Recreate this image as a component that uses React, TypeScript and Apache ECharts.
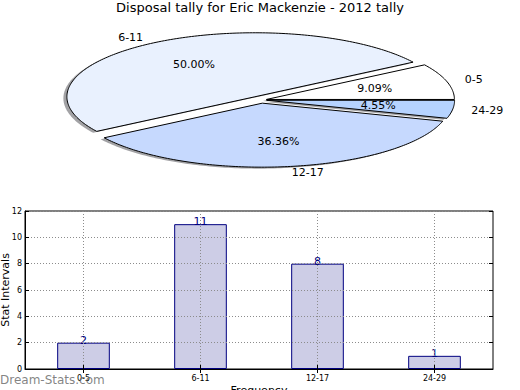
import React, { useEffect, useRef } from "react";
import * as echarts from "echarts";

const categories = ["0-5", "6-11", "12-17", "24-29"];
const tally = [2, 11, 8, 1];
const explode = [0.03, 0.06, 0.05, 0.03];
const sliceColors = ["#ffffff", "#e9f1fe", "#c6d9fe", "#b6d3fe"];
const yTicks = [0, 2, 4, 6, 8, 10, 12];
const titleText = "Disposal tally for Eric Mackenzie - 2012 tally";

const FONT = "DejaVu Sans";
const PIE = { cx: 261, cy: 100, rx: 188, ry: 64 };
const GRID_LINE = { type: [1, 2], color: "#8c8c8c", width: 1 };

function sliceGeom(i: number) {
  const total = tally.reduce((a, b) => a + b, 0);
  let before = 0;
  for (let k = 0; k < i; k++) before += tally[k];
  const start = (before / total) * 2 * Math.PI;
  const end = ((before + tally[i]) / total) * 2 * Math.PI;
  const mid = (start + end) / 2;
  const ox = Math.cos(mid) * PIE.rx * explode[i];
  const oy = -Math.sin(mid) * PIE.ry * explode[i];
  return { start, end, mid, ox, oy, frac: tally[i] / total };
}

function slicePoints(i: number, dx: number, dy: number) {
  const g = sliceGeom(i);
  const cx = PIE.cx + g.ox + dx;
  const cy = PIE.cy + g.oy + dy;
  const pts: number[][] = [[cx, cy]];
  const n = Math.max(8, Math.ceil(((g.end - g.start) * 180) / Math.PI));
  for (let k = 0; k <= n; k++) {
    const a = g.start + ((g.end - g.start) * k) / n;
    pts.push([cx + PIE.rx * Math.cos(a), cy - PIE.ry * Math.sin(a)]);
  }
  return pts;
}

export default function App() {
  const ref = useRef<HTMLDivElement>(null);
  useEffect(() => {
    if (!ref.current) return;
    const chart = echarts.init(ref.current, undefined, { renderer: "svg" });
    const option: any = {
      animation: false,
      title: {
        text: titleText,
        left: "center",
        top: 1,
        padding: 0,
        textStyle: { fontFamily: FONT, fontSize: 13, fontWeight: "normal", color: "#000" },
      },
      grid: {
        left: 25,
        top: 211,
        right: 27,
        bottom: 21,
        show: true,
        borderColor: "#000",
        borderWidth: 1,
        backgroundColor: "transparent",
        containLabel: false,
        outerBoundsMode: "none",
      },
      xAxis: [
        {
          type: "category",
          data: categories,
          z: 5,
          axisLine: { show: true, lineStyle: { color: "#000", width: 1 } },
          axisTick: { show: true, inside: true, alignWithLabel: true, length: 4, lineStyle: { color: "#000" } },
          axisLabel: { fontFamily: FONT, fontSize: 8, color: "#000", margin: 5 },
          splitLine: { show: true, alignWithLabel: true, lineStyle: GRID_LINE },
          name: "Frequency",
          nameLocation: "middle",
          nameGap: 16,
          nameMoveOverlap: false,
          nameTextStyle: { fontFamily: FONT, fontSize: 11, color: "#000", verticalAlign: "top" },
        },
        {
          type: "category",
          data: categories,
          position: "top",
          z: 5,
          axisLine: { show: false },
          axisTick: { show: true, inside: true, alignWithLabel: true, length: 4, lineStyle: { color: "#000" } },
          axisLabel: { show: false },
          splitLine: { show: false },
        },
      ],
      yAxis: [
        {
          type: "value",
          min: 0,
          max: 12,
          interval: 2,
          z: 5,
          axisLine: { show: true, lineStyle: { color: "#000" } },
          axisTick: { show: true, inside: true, length: 4, lineStyle: { color: "#000" } },
          axisLabel: { fontFamily: FONT, fontSize: 8, color: "#000", margin: 3 },
          splitLine: { show: true, lineStyle: GRID_LINE },
          name: "Stat Intervals",
          nameLocation: "middle",
          nameRotate: 90,
          nameGap: 14,
          nameMoveOverlap: false,
          nameTextStyle: { fontFamily: FONT, fontSize: 11, color: "#000" },
        },
        {
          type: "value",
          min: 0,
          max: 12,
          interval: 2,
          position: "right",
          z: 5,
          axisLine: { show: false },
          axisTick: { show: true, inside: true, length: 4, lineStyle: { color: "#000" } },
          axisLabel: { show: false },
          splitLine: { show: false },
        },
      ],
      series: [
        {
          type: "bar",
          data: tally,
          barWidth: "45%",
          itemStyle: { color: "#cdcde6", borderColor: "#000080", borderWidth: 1 },
          label: {
            show: true,
            position: "top",
            distance: -3,
            color: "#000080",
            fontFamily: FONT,
            fontSize: 11,
          },
          z: 2,
        },
        {
          type: "custom",
          coordinateSystem: "none",
          data: tally,
          z: 1,
          silent: true,
          renderItem: (params: any) => {
            const i = params.dataIndex;
            return {
              type: "polygon",
              shape: { points: slicePoints(i, -3.5, 1.5) },
              style: { fill: "rgba(70,70,75,0.5)", stroke: "none" },
            };
          },
        },
        {
          type: "custom",
          coordinateSystem: "none",
          data: tally,
          z: 3,
          silent: true,
          renderItem: (params: any) => {
            const i = params.dataIndex;
            const g = sliceGeom(i);
            const cx = PIE.cx + g.ox;
            const cy = PIE.cy + g.oy;
            const c = Math.cos(g.mid);
            const s = Math.sin(g.mid);
            const lx = cx + 1.1 * PIE.rx * c;
            const ly = cy - 1.1 * PIE.ry * s;
            const px = cx + 0.6 * PIE.rx * c;
            const py = cy - 0.6 * PIE.ry * s;
            return {
              type: "group",
              children: [
                {
                  type: "polygon",
                  shape: { points: slicePoints(i, 0, 0) },
                  style: { fill: sliceColors[i], stroke: "#000", lineWidth: 1 },
                },
                {
                  type: "text",
                  x: lx,
                  y: ly,
                  style: {
                    text: categories[i],
                    fill: "#000",
                    fontFamily: FONT,
                    fontSize: 11,
                    align: c >= 0 ? "left" : "right",
                    verticalAlign: "middle",
                  },
                },
                {
                  type: "text",
                  x: px,
                  y: py,
                  style: {
                    text: (g.frac * 100).toFixed(2) + "%",
                    fill: "#000",
                    fontFamily: FONT,
                    fontSize: 11,
                    align: "center",
                    verticalAlign: "middle",
                  },
                },
              ],
            };
          },
        },
      ],
      graphic: [
        {
          type: "text",
          left: 0,
          top: 374,
          z: 100,
          style: {
            text: "Dream-Stats.com",
            fill: "rgba(110,110,110,0.85)",
            fontFamily: FONT,
            fontSize: 12,
            fontWeight: "normal",
          },
        },
      ],
    };
    chart.setOption(option);
    return () => chart.dispose();
  }, []);
  return (
    <div
      ref={ref}
      style={{ position: "fixed", left: 0, top: 0, width: 520, height: 390, background: "#fff" }}
    />
  );
}
